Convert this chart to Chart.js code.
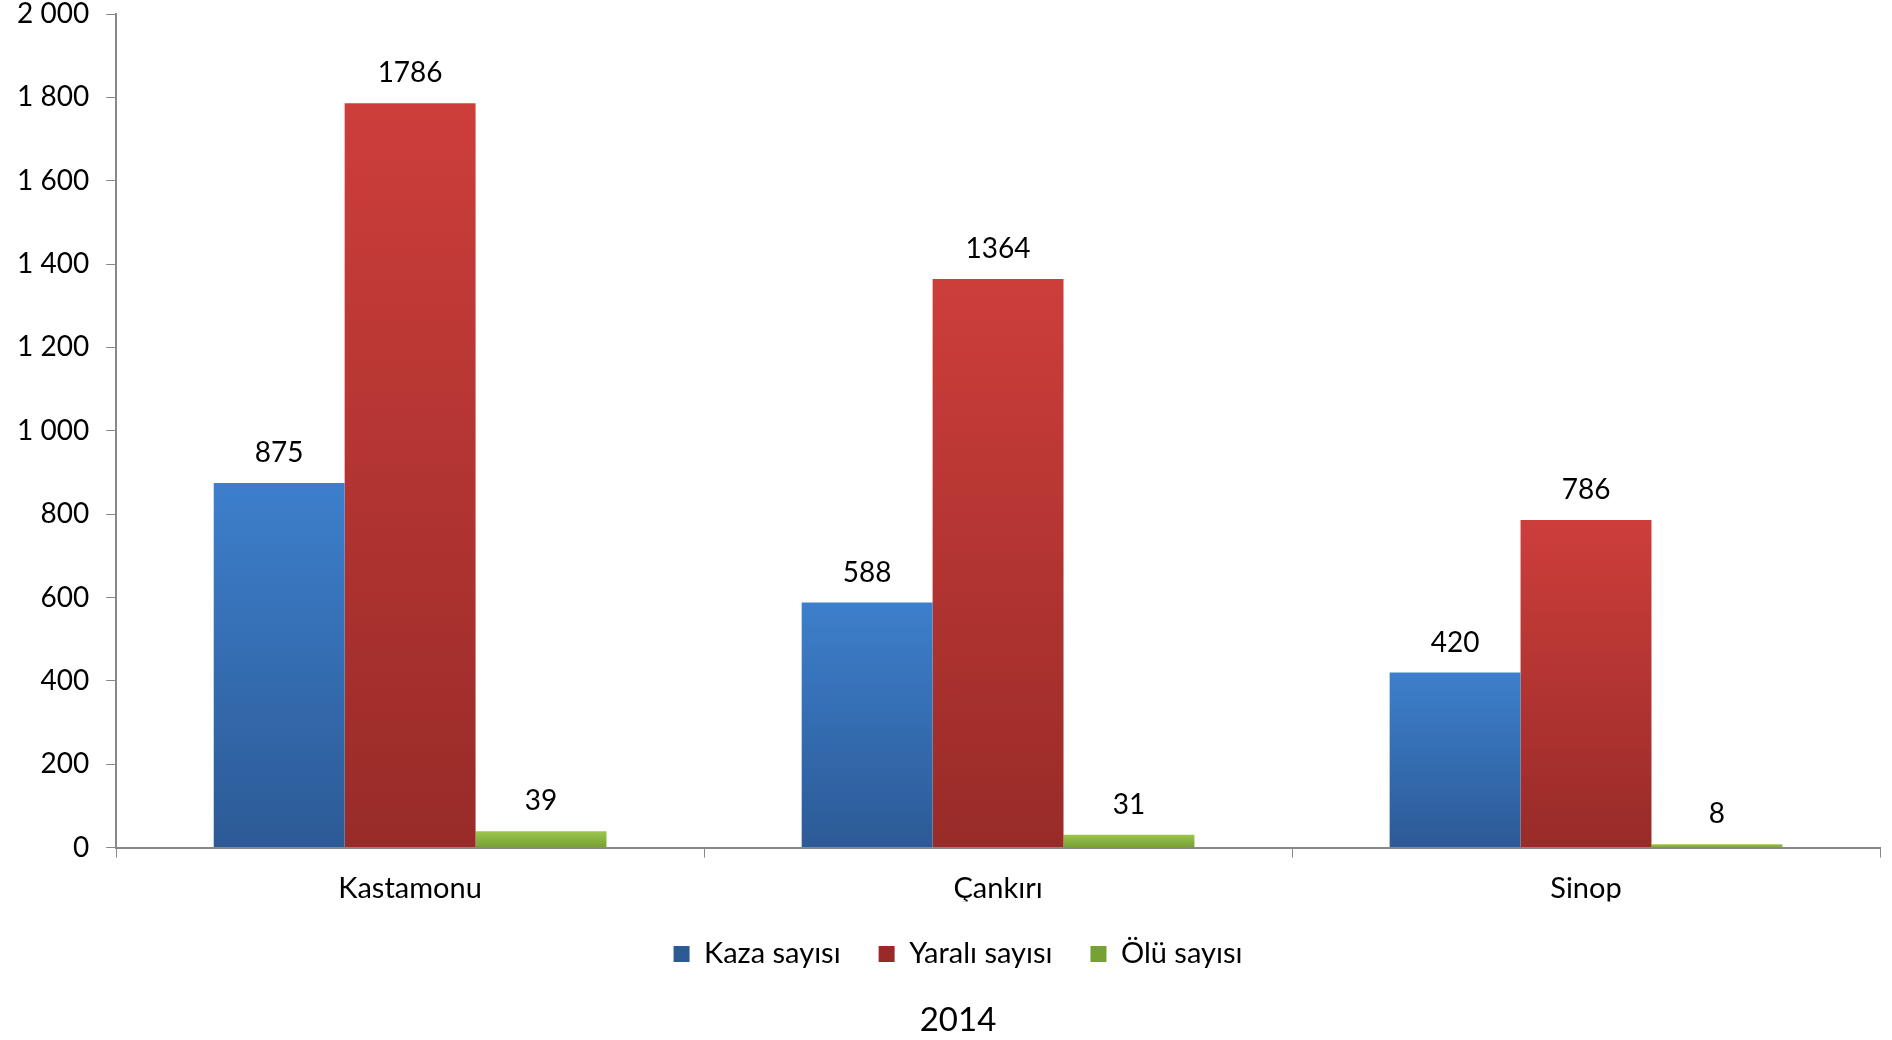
<!DOCTYPE html>
<html>
<head>
<meta charset="utf-8">
<script src="https://cdn.jsdelivr.net/npm/chart.js@4"></script>
<style>
  html, body { margin: 0; padding: 0; background: #fff; }
  #wrap { width: 1892px; height: 1040px; }
</style>
</head>
<body>
<div id="wrap"><canvas id="chart"></canvas></div>
<script>
const provinces = ["Kastamonu", "Çankırı", "Sinop"];
const kaza = [875, 588, 420];
const yarali = [1786, 1364, 786];
const olu = [39, 31, 8];
const yearTitle = "2014";

const FONT = "Lato, 'Open Sans', sans-serif";

// each bar gets its own top-to-bottom gradient, like the office fill
function grad(top, bottom) {
  return (ctx) => {
    const chart = ctx.chart;
    if (!chart.chartArea || ctx.type !== "data") return top;
    const y = chart.scales.y;
    const y0 = y.getPixelForValue(ctx.raw);
    const y1 = y.getPixelForValue(0);
    if (y1 - y0 < 1) return top;
    const g = chart.ctx.createLinearGradient(0, y0, 0, y1);
    g.addColorStop(0, top);
    g.addColorStop(1, bottom);
    return g;
  };
}

const spaced = (v) => String(v).replace(/\B(?=(\d{3})+(?!\d))/g, " ");

// value labels above the bars
const valueLabels = {
  id: "valueLabels",
  afterDatasetsDraw(chart) {
    const c = chart.ctx;
    c.save();
    c.font = "28px " + FONT;
    c.fillStyle = "#000";
    c.textAlign = "center";
    c.textBaseline = "middle";
    chart.data.datasets.forEach((ds, i) => {
      chart.getDatasetMeta(i).data.forEach((bar, j) => {
        c.fillText(String(ds.data[j]), bar.x, bar.y - 30);
      });
    });
    c.restore();
  }
};

// legend + title sit a bit right of the canvas centre in the original,
// so pad the left and give that room back to the y axis
const SHIFT = 36;
const yAxisToEdge = {
  id: "yAxisToEdge",
  afterLayout(chart) {
    chart.scales.y.left = 0;
  }
};

new Chart(document.getElementById("chart"), {
  type: "bar",
  data: {
    labels: provinces,
    datasets: [
      { label: "Kaza sayısı", data: kaza, backgroundColor: grad("#3d7fcc", "#2c5a96") },
      { label: "Yaralı sayısı", data: yarali, backgroundColor: grad("#cd3e3b", "#982b28"), },
      { label: "Ölü sayısı", data: olu, backgroundColor: grad("#9cc54b", "#76a133") }
    ]
  },
  options: {
    responsive: true,
    maintainAspectRatio: false,
    animation: false,
    layout: { padding: { top: 14, right: 12, left: SHIFT, bottom: 0 } },
    datasets: { bar: { categoryPercentage: 0.668, barPercentage: 1 } },
    scales: {
      x: {
        afterFit: (s) => { s.height -= 19; },
        grid: { display: true, drawOnChartArea: false, drawTicks: true, tickLength: 10, color: "#888", offset: true },
        border: { color: "#888", width: 2 },
        ticks: { color: "#000", padding: 14, font: { family: FONT, size: 29 } }
      },
      y: {
        min: 0,
        max: 2000,
        afterFit: (s) => { s.paddingTop = 0; s.width -= SHIFT; },
        grid: { display: true, drawOnChartArea: false, drawTicks: true, tickLength: 10, color: "#888" },
        border: { color: "#888", width: 2 },
        ticks: { stepSize: 200, color: "#000", padding: 17, font: { family: FONT, size: 28 }, callback: spaced }
      }
    },
    plugins: {
      legend: {
        position: "bottom",
        labels: { color: "#000", boxWidth: 16, boxHeight: 16, padding: 38, font: { family: FONT, size: 29 } }
      },
      title: {
        display: true,
        position: "bottom",
        text: yearTitle,
        color: "#000",
        padding: { top: 22, bottom: 0 },
        font: { family: FONT, size: 33, weight: "normal" }
      },
      tooltip: { enabled: false }
    }
  },
  plugins: [valueLabels, yAxisToEdge]
});
</script>
</body>
</html>
